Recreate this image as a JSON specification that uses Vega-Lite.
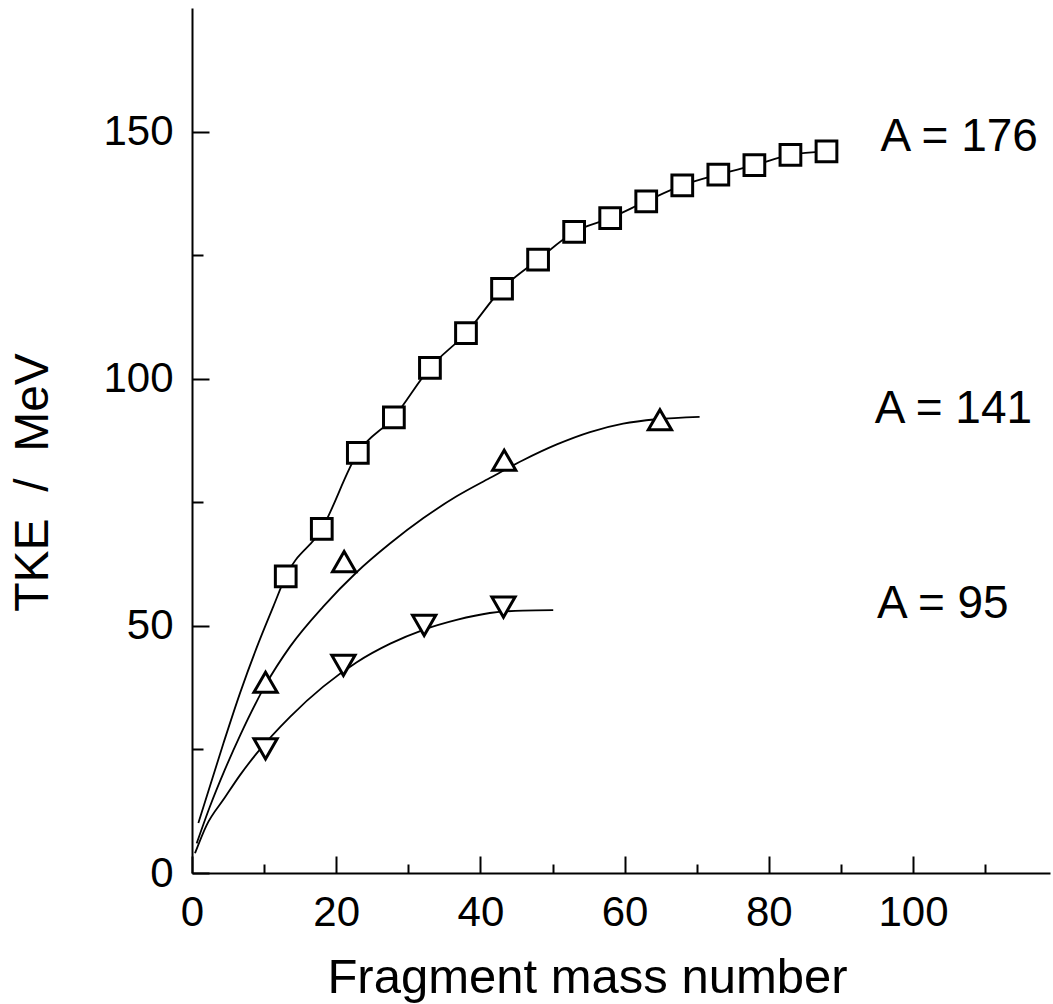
{
  "$schema": "https://vega.github.io/schema/vega-lite/v6.json",
  "width": 858,
  "height": 865,
  "autosize": {"type": "none"},
  "padding": {"left": 192, "top": 8, "right": 3, "bottom": 131},
  "background": "white",
  "config": {
    "view": {"stroke": null},
    "font": "Liberation Sans",
    "axis": {
      "grid": false,
      "domainColor": "black",
      "domainWidth": 2,
      "tickColor": "black",
      "tickWidth": 2,
      "labelColor": "black",
      "titleColor": "black",
      "labelFont": "Liberation Sans",
      "titleFont": "Liberation Sans",
      "labelFontSize": 42,
      "titleFontWeight": "normal",
      "labelFlush": false,
      "labelOverlap": false
    }
  },
  "datasets": {
    "curves": [
      {"series": "A176", "x": 0.88, "y": 10.1},
      {"series": "A176", "x": 4.35, "y": 26.2},
      {"series": "A176", "x": 6.66, "y": 36.4},
      {"series": "A176", "x": 8.97, "y": 45.6},
      {"series": "A176", "x": 11.3, "y": 54.0},
      {"series": "A176", "x": 13, "y": 60.0},
      {"series": "A176", "x": 18, "y": 69.6},
      {"series": "A176", "x": 23, "y": 85.0},
      {"series": "A176", "x": 28, "y": 92.2},
      {"series": "A176", "x": 33, "y": 102.2},
      {"series": "A176", "x": 38, "y": 109.2},
      {"series": "A176", "x": 43, "y": 118.2},
      {"series": "A176", "x": 48, "y": 124.1},
      {"series": "A176", "x": 53, "y": 129.7},
      {"series": "A176", "x": 58, "y": 132.5},
      {"series": "A176", "x": 63, "y": 135.9},
      {"series": "A176", "x": 68, "y": 139.1},
      {"series": "A176", "x": 73, "y": 141.3},
      {"series": "A176", "x": 78, "y": 143.2},
      {"series": "A176", "x": 83, "y": 145.3},
      {"series": "A176", "x": 88, "y": 146.0},
      {"series": "A141", "x": 0.65, "y": 6.0},
      {"series": "A141", "x": 2.5, "y": 13.5},
      {"series": "A141", "x": 4.53, "y": 20.8},
      {"series": "A141", "x": 6.66, "y": 27.8},
      {"series": "A141", "x": 10.22, "y": 38.1},
      {"series": "A141", "x": 13.6, "y": 45.8},
      {"series": "A141", "x": 18.2, "y": 53.9},
      {"series": "A141", "x": 22.8, "y": 60.8},
      {"series": "A141", "x": 27.5, "y": 66.7},
      {"series": "A141", "x": 32.1, "y": 71.8},
      {"series": "A141", "x": 36.7, "y": 76.2},
      {"series": "A141", "x": 41.3, "y": 79.9},
      {"series": "A141", "x": 45.9, "y": 83.5},
      {"series": "A141", "x": 50.6, "y": 86.7},
      {"series": "A141", "x": 55.2, "y": 89.2},
      {"series": "A141", "x": 59.8, "y": 90.9},
      {"series": "A141", "x": 64.4, "y": 91.8},
      {"series": "A141", "x": 70.4, "y": 92.3},
      {"series": "A95", "x": 0.42, "y": 4.0},
      {"series": "A95", "x": 2.0, "y": 9.6},
      {"series": "A95", "x": 4.53, "y": 15.2},
      {"series": "A95", "x": 6.66, "y": 19.8},
      {"series": "A95", "x": 8.97, "y": 24.2},
      {"series": "A95", "x": 13.6, "y": 31.6},
      {"series": "A95", "x": 18.2, "y": 37.7},
      {"series": "A95", "x": 22.8, "y": 42.6},
      {"series": "A95", "x": 27.5, "y": 46.4},
      {"series": "A95", "x": 32.1, "y": 49.2},
      {"series": "A95", "x": 36.7, "y": 51.2},
      {"series": "A95", "x": 41.3, "y": 52.6},
      {"series": "A95", "x": 45.9, "y": 53.1},
      {"series": "A95", "x": 50.1, "y": 53.2}
    ],
    "squares": [
      {"x": 13, "y": 60.0},
      {"x": 18, "y": 69.6},
      {"x": 23, "y": 85.0},
      {"x": 28, "y": 92.2},
      {"x": 33, "y": 102.2},
      {"x": 38, "y": 109.2},
      {"x": 43, "y": 118.2},
      {"x": 48, "y": 124.1},
      {"x": 53, "y": 129.7},
      {"x": 58, "y": 132.5},
      {"x": 63, "y": 135.9},
      {"x": 68, "y": 139.1},
      {"x": 73, "y": 141.3},
      {"x": 78, "y": 143.2},
      {"x": 83, "y": 145.3},
      {"x": 88, "y": 146.0}
    ],
    "triangles": [
      {"series": "A141", "x": 10.2, "y": 38.6},
      {"series": "A141", "x": 21.1, "y": 63.0},
      {"series": "A141", "x": 43.3, "y": 83.5},
      {"series": "A141", "x": 64.9, "y": 91.7},
      {"series": "A95", "x": 10.2, "y": 25.1},
      {"series": "A95", "x": 21.0, "y": 42.0},
      {"series": "A95", "x": 32.2, "y": 50.1},
      {"series": "A95", "x": 43.2, "y": 53.8}
    ],
    "labels": [
      {"label": "A = 176", "x": 95.5, "y": 146.0},
      {"label": "A = 141", "x": 94.7, "y": 91.1},
      {"label": "A = 95", "x": 95.0, "y": 51.6}
    ]
  },
  "layer": [
    {
      "data": {"name": "curves"},
      "mark": {"type": "line", "color": "black", "strokeWidth": 1.8, "interpolate": "monotone", "clip": true},
      "encoding": {
        "x": {
          "field": "x", "type": "quantitative",
          "scale": {"domain": [0, 119], "nice": false, "zero": false},
          "axis": {
            "orient": "bottom",
            "values": [0, 20, 40, 60, 80, 100],
            "tickSize": -17,
            "labelPadding": 36,
            "labelBaseline": "top",
            "title": "Fragment mass number",
            "titleFontSize": 49,
            "titleX": 395,
            "titleY": 119,
            "titleAlign": "center",
            "titleBaseline": "alphabetic",
            "titleAnchor": null
          }
        },
        "y": {
          "field": "y", "type": "quantitative",
          "scale": {"domain": [0, 175], "nice": false, "zero": false},
          "axis": {
            "orient": "left",
            "values": [0, 50, 100, 150],
            "tickSize": -17,
            "labelPadding": 36,
            "labelBaseline": "middle",
            "title": "TKE \u00a0/\u00a0 MeV",
            "titleFontSize": 48,
            "titleAngle": 270,
            "titleX": -145,
            "titleY": 474,
            "titleAlign": "center",
            "titleBaseline": "alphabetic",
            "titleAnchor": null
          }
        },
        "detail": {"field": "series", "type": "nominal"}
      }
    },
    {
      "data": {"name": "squares"},
      "mark": {"type": "point", "shape": "square", "size": 430, "filled": true, "fill": "white", "stroke": "black", "strokeWidth": 3, "opacity": 1},
      "encoding": {
        "x": {
          "field": "x", "type": "quantitative",
          "axis": {
            "orient": "bottom",
            "values": [10, 30, 50, 70, 90, 110],
            "tickSize": -9,
            "labels": false,
            "domain": false,
            "title": null
          }
        },
        "y": {
          "field": "y", "type": "quantitative",
          "axis": {
            "orient": "left",
            "values": [25, 75, 125],
            "tickSize": -11,
            "labels": false,
            "domain": false,
            "title": null
          }
        }
      }
    },
    {
      "data": {"name": "triangles"},
      "mark": {"type": "point", "size": 540, "filled": true, "fill": "white", "stroke": "black", "strokeWidth": 3, "opacity": 1},
      "encoding": {
        "x": {"field": "x", "type": "quantitative", "axis": null},
        "y": {"field": "y", "type": "quantitative", "axis": null},
        "shape": {
          "field": "series", "type": "nominal",
          "scale": {"domain": ["A141", "A95"], "range": ["triangle-up", "triangle-down"]},
          "legend": null
        }
      }
    },
    {
      "data": {"name": "labels"},
      "mark": {"type": "text", "align": "left", "baseline": "alphabetic", "fontSize": 46, "font": "Liberation Sans", "color": "black"},
      "encoding": {
        "x": {"field": "x", "type": "quantitative", "axis": null},
        "y": {"field": "y", "type": "quantitative", "axis": null},
        "text": {"field": "label", "type": "nominal"}
      }
    }
  ],
  "resolve": {"axis": {"x": "independent", "y": "independent"}}
}
